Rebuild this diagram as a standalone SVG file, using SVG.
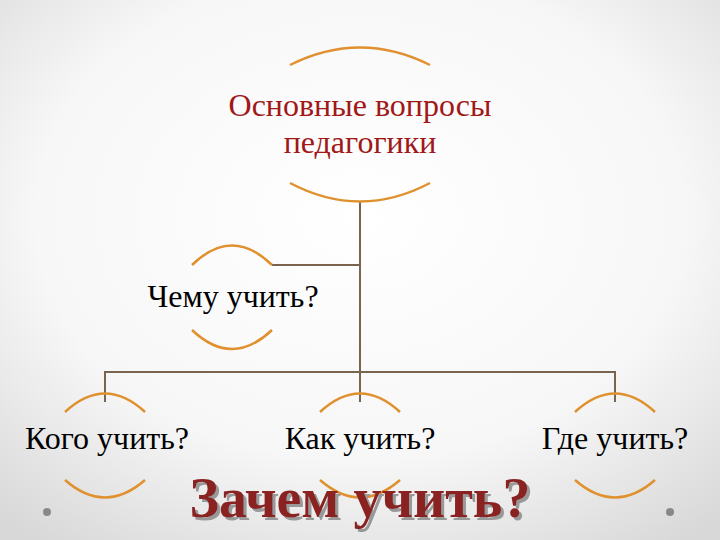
<svg xmlns="http://www.w3.org/2000/svg" width="720" height="540" viewBox="0 0 720 540">
<defs>
<radialGradient id="bg" cx="50%" cy="40%" r="75%">
<stop offset="0" stop-color="#ffffff"/><stop offset="0.6" stop-color="#f7f7f7"/><stop offset="1" stop-color="#d8d8d8"/>
</radialGradient>
<filter id="sh" x="-5%" y="-20%" width="115%" height="150%">
<feDropShadow dx="3" dy="3" stdDeviation="0.5" flood-color="#999"/>
</filter>
<style>
.arc{fill:none;stroke:#e0902e;stroke-width:2.5}
.ln{fill:none;stroke:#7a6450;stroke-width:2}
</style>
</defs>
<rect width="720" height="540" fill="url(#bg)"/>
<g id="connectors">
<path class="ln" d="M360 202V372M272 265H360M105 402V372H615V402M360 372V402"/>
</g>
<g font-family="'Liberation Serif', 'Times New Roman', serif" font-size="32" text-anchor="middle" fill="#000">
<g id="n-top">
<path class="arc" d="M290 65Q360 30 430 65M290 183Q360 220 430 183"/>
<text x="360" y="116" fill="#a01818">Основные вопросы</text>
<text x="360" y="153" fill="#a01818">педагогики</text>
</g>
<g id="n-chemu">
<path class="arc" d="M192 265Q232 226 272 265M192 330Q232 368 272 330"/>
<text x="233" y="307">Чему учить?</text>
</g>
<g id="n-kogo">
<path class="arc" d="M65 412Q105 375 145 412M65 480Q105 515 145 480"/>
<text x="107" y="449">Кого учить?</text>
</g>
<g id="n-kak">
<path class="arc" d="M320 412Q360 375 400 412M320 480Q360 515 400 480"/>
<text x="360" y="449">Как учить?</text>
</g>
<g id="n-gde">
<path class="arc" d="M575 412Q615 375 655 412M575 480Q615 515 655 480"/>
<text x="615" y="449">Где учить?</text>
</g>
</g>
<g id="zachem" font-family="'Liberation Serif', serif" font-size="56" font-weight="bold" text-anchor="middle">
<text x="360" y="517" fill="#8b2424" filter="url(#sh)">Зачем учить?</text>
</g>
<circle cx="47" cy="512" r="4" fill="#888"/>
<circle cx="670" cy="512" r="4" fill="#888"/>
</svg>
